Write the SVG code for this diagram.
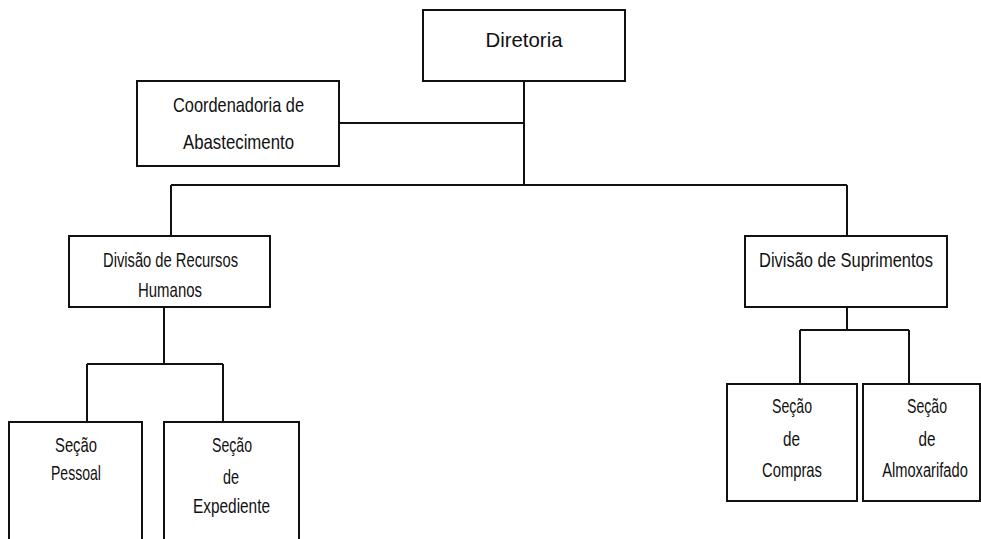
<svg xmlns="http://www.w3.org/2000/svg" width="981" height="539" viewBox="0 0 981 539">
<style>
.box{fill:#fff;stroke:#111;stroke-width:2}
.ln{fill:none;stroke:#111;stroke-width:2}
text{font-family:"Liberation Sans",Arial,sans-serif;font-size:21px;fill:#111;text-anchor:middle}
</style>
<rect width="981" height="539" fill="#fff"/>
<g id="connectors">
<path class="ln" d="M339,123 H524 M524,81 V185 M171,185 H847 M171,185 V236 M847,185 V236"/>
<path class="ln" d="M164,307 V364 M87,364 H223 M87,364 V422 M223,364 V422"/>
<path class="ln" d="M847,307 V330 M800,330 H909 M800,330 V384 M909,330 V384"/>
</g>
<g id="diretoria">
<rect class="box" x="423" y="10" width="202" height="71"/>
<text x="524" y="47" textLength="77" lengthAdjust="spacingAndGlyphs">Diretoria</text>
</g>
<g id="coordenadoria">
<rect class="box" x="137" y="81" width="202" height="85"/>
<text x="238.5" y="112" textLength="131" lengthAdjust="spacingAndGlyphs">Coordenadoria de</text>
<text x="238.5" y="149" textLength="111" lengthAdjust="spacingAndGlyphs">Abastecimento</text>
</g>
<g id="div-rh">
<rect class="box" x="69" y="236" width="201" height="71"/>
<text x="170.5" y="267" textLength="135" lengthAdjust="spacingAndGlyphs">Divisão de Recursos</text>
<text x="170" y="297" textLength="64" lengthAdjust="spacingAndGlyphs">Humanos</text>
</g>
<g id="div-sup">
<rect class="box" x="745" y="236" width="202" height="71"/>
<text x="846" y="267" textLength="174" lengthAdjust="spacingAndGlyphs">Divisão de Suprimentos</text>
</g>
<g id="sec-pessoal">
<rect class="box" x="9" y="422" width="133" height="120"/>
<text x="76" y="452" textLength="42" lengthAdjust="spacingAndGlyphs">Seção</text>
<text x="76" y="480" textLength="50" lengthAdjust="spacingAndGlyphs">Pessoal</text>
</g>
<g id="sec-expediente">
<rect class="box" x="164" y="422" width="135" height="120"/>
<text x="232" y="452" textLength="40" lengthAdjust="spacingAndGlyphs">Seção</text>
<text x="231" y="484" textLength="16" lengthAdjust="spacingAndGlyphs">de</text>
<text x="231.5" y="513" textLength="77" lengthAdjust="spacingAndGlyphs">Expediente</text>
</g>
<g id="sec-compras">
<rect class="box" x="727" y="384" width="130" height="117"/>
<text x="792" y="413" textLength="40" lengthAdjust="spacingAndGlyphs">Seção</text>
<text x="791.5" y="446" textLength="17" lengthAdjust="spacingAndGlyphs">de</text>
<text x="792" y="477" textLength="60" lengthAdjust="spacingAndGlyphs">Compras</text>
</g>
<g id="sec-almoxarifado">
<rect class="box" x="863" y="384" width="117" height="117"/>
<text x="927" y="413" textLength="40" lengthAdjust="spacingAndGlyphs">Seção</text>
<text x="927" y="446" textLength="17" lengthAdjust="spacingAndGlyphs">de</text>
<text transform="translate(925 477) scale(0.70 1)" x="0" y="0">Almoxarifado</text>
</g>
</svg>
